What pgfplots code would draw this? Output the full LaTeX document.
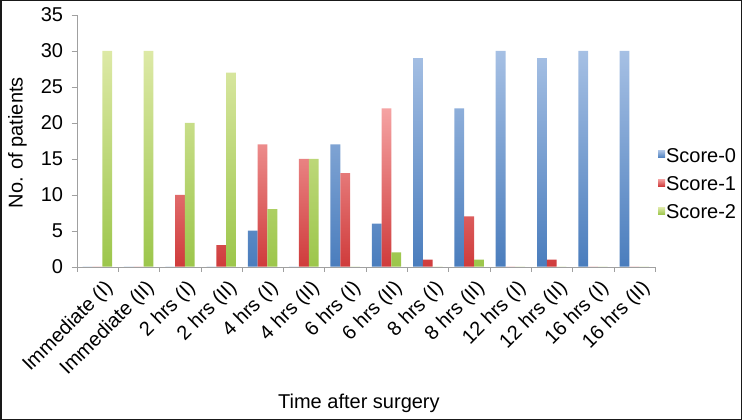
\documentclass[border=0pt]{standalone}
\usepackage{fontspec}
\setmainfont{Liberation Sans}
\usepackage{pgfplots}
\pgfplotsset{compat=1.18}
\definecolor{bTop}{HTML}{A6C0E4}
\definecolor{bBot}{HTML}{4A7DBD}
\definecolor{rTop}{HTML}{F5A3A3}
\definecolor{rBot}{HTML}{CF3B3B}
\definecolor{gTop}{HTML}{DDE9A6}
\definecolor{gBot}{HTML}{9CC64B}
\definecolor{axgray}{HTML}{A0A0A0}
\begin{document}
\begin{tikzpicture}
\useasboundingbox (0,0) rectangle (742bp,420bp);
\begin{axis}[
  at={(76.7bp,153.3bp)}, anchor=south west,
  scale only axis, width=578.3bp, height=251.7bp,
  font=\fontsize{20bp}{24bp}\selectfont,
  /pgf/number format/assume math mode=true,
  ybar=0pt, bar width=9.8bp,
  xmin=-0.5, xmax=13.5, ymin=0, ymax=35,
  ytick={0,5,...,35},
  xtick={0,...,13},
  xticklabels={Immediate (I), Immediate (II), 2 hrs (I), 2 hrs (II), 4 hrs (I), 4 hrs (II), 6 hrs (I), 6 hrs (II), 8 hrs (I), 8 hrs (II), 12 hrs (I), 12 hrs (II), 16 hrs (I), 16 hrs (II)},
  minor xtick={-0.5,0.5,...,13.5},
  major x tick style={draw=none},
  minor x tick style={draw=axgray},
  ytick style={draw=axgray},
  tick align=outside,
  major tick length=5bp, minor tick length=5bp,
  axis x line*=bottom, axis y line*=left,
  axis line style={draw=axgray},
  xticklabel style={xshift=6bp, yshift=-5bp, rotate=45, anchor=north east, inner sep=1bp},
  yticklabel style={anchor=east, inner sep=0bp, xshift=-8.4bp},
  xlabel={Time after surgery},
  ylabel={No. of patients},
  xlabel style={at={(axis description cs:0.488,-0.5415)}, anchor=center},
  ylabel style={at={(axis description cs:-0.1024,0.493)}, anchor=center},
  legend style={at={(axis description cs:1.005,0.475)}, anchor=north west, draw=none, fill=none, row sep=8.3bp, inner sep=0pt, column sep=0pt,
    nodes={inner sep=1bp, text height=14bp, text depth=4bp},
    font=\fontsize{20bp}{24bp}\selectfont},
  legend cell align=left,
  legend image code/.code={\fill[#1] (0bp,-0.5bp) rectangle (7bp,6.5bp);},
]
\addplot[draw=none, top color=bTop, bottom color=bBot] coordinates {
 (0,0) (1,0) (2,0) (3,0) (4,5) (5,0) (6,17) (7,6) (8,29) (9,22) (10,30) (11,29) (12,30) (13,30)};
\addplot[draw=none, top color=rTop, bottom color=rBot] coordinates {
 (0,0) (1,0) (2,10) (3,3) (4,17) (5,15) (6,13) (7,22) (8,1) (9,7) (10,0) (11,1) (12,0) (13,0)};
\addplot[draw=none, top color=gTop, bottom color=gBot] coordinates {
 (0,30) (1,30) (2,20) (3,27) (4,8) (5,15) (6,0) (7,2) (8,0) (9,1) (10,0) (11,0) (12,0) (13,0)};
\legend{Score-0, Score-1, Score-2}
\end{axis}
\draw[line width=1.5bp, black!90] (0.75bp,0.75bp) rectangle (741.25bp,419.25bp);
\end{tikzpicture}
\end{document}
